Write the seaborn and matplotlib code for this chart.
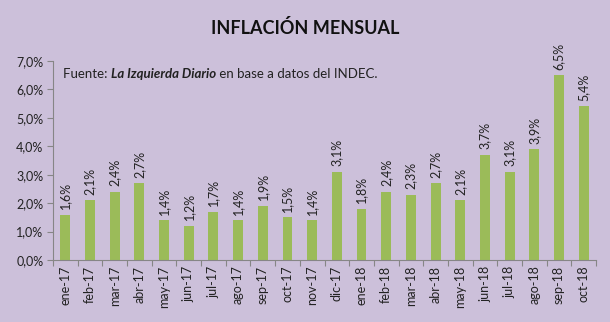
import matplotlib
matplotlib.use("Agg")
import matplotlib.pyplot as plt
import seaborn as sns
import pandas as pd
import numpy as np

months = ["ene-17", "feb-17", "mar-17", "abr-17", "may-17", "jun-17", "jul-17",
          "ago-17", "sep-17", "oct-17", "nov-17", "dic-17", "ene-18", "feb-18",
          "mar-18", "abr-18", "may-18", "jun-18", "jul-18", "ago-18", "sep-18", "oct-18"]
values = [1.6, 2.1, 2.4, 2.7, 1.4, 1.2, 1.7, 1.4, 1.9, 1.5, 1.4, 3.1, 1.8, 2.4,
          2.3, 2.7, 2.1, 3.7, 3.1, 3.9, 6.5, 5.4]
title = "INFLACIÓN MENSUAL"

BG = "#CCC0DA"
BAR = "#9BBB59"
AX = "#868686"

sns.set_theme(style="white")
plt.rcParams["font.family"] = ["Lato", "DejaVu Sans"]

df = pd.DataFrame({"mes": months, "v": values})

fig = plt.figure(figsize=(6.1, 3.22), dpi=100, facecolor=BG)
ax = fig.add_axes([53/610, 1 - 260/322, (596-53)/610, (260-61)/322])
ax.set_facecolor(BG)

sns.barplot(data=df, x="mes", y="v", color=BAR, width=0.4, saturation=1, ax=ax,
            linewidth=0, edgecolor=BAR)

ax.set_ylim(0, 7)
ax.set_xlim(-0.5, len(months) - 0.5)
ax.set_yticks(np.arange(0, 7.01, 1))
ax.set_yticklabels([f"{t:.1f}%".replace(".", ",") for t in np.arange(0, 7.01, 1)],
                   fontsize=9, color="#222222")
ax.set_xticks(range(len(months)))
ax.set_xticklabels(months, rotation=90, fontsize=9, color="#222222")
ax.tick_params(axis="x", length=0, pad=4)
ax.tick_params(axis="y", length=4, width=0.8, color=AX, direction="out", pad=3, left=True)
ax.set_xticks(np.arange(-0.5, len(months), 1), minor=True)
ax.tick_params(axis="x", which="minor", length=4, width=0.8, color=AX, direction="out", bottom=True)
ax.set_xlabel("")
ax.set_ylabel("")
for s in ["top", "right"]:
    ax.spines[s].set_visible(False)
for s in ["left", "bottom"]:
    ax.spines[s].set_color(AX)
    ax.spines[s].set_linewidth(0.8)

for i, v in enumerate(values):
    ax.annotate(f"{v:.1f}%".replace(".", ","), xy=(i, v), xytext=(0, 4),
                textcoords="offset points", rotation=90, ha="center", va="bottom",
                fontsize=9, color="#222222")

fig.text(305/610, 1 - 28/322, title, ha="center", va="center",
         fontsize=13, fontweight="bold", color="#111111")

t1 = fig.text(63/610, 1 - 74/322, "Fuente: ", ha="left", va="center", fontsize=9.5, color="#222222")
t2 = ax.annotate("La Izquierda Diario", xy=(1, 0), xycoords=t1, ha="left", va="bottom",
                 fontsize=9.5, fontweight="bold", fontstyle="italic", color="#222222")
t3 = ax.annotate(" en base a datos del INDEC.", xy=(1, 0), xycoords=t2, ha="left", va="bottom",
                 fontsize=9.5, color="#222222")

fig.savefig("out.png", dpi=100, facecolor=BG)
